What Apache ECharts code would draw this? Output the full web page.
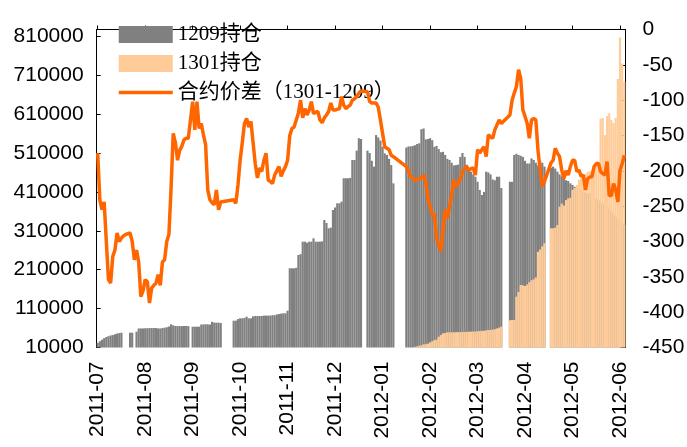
<!DOCTYPE html>
<html><head><meta charset="utf-8">
<script src="https://cdn.jsdelivr.net/npm/echarts@6/dist/echarts.min.js"></script>
<style>html,body{margin:0;padding:0;background:#fff}#c{width:687px;height:447px}</style>
</head><body><div id="c"></div>
<script>
// weekday slots starting 2011-07-13, 245 trading-day slots (holidays kept as empty slots)
const startDate = [2011, 6, 13];
const slotCount = 245;
const monthLabels = ['2011-07','2011-08','2011-09','2011-10','2011-11','2011-12','2012-01','2012-02','2012-03','2012-04','2012-05','2012-06'];
const labelEvery = 22;

const holding1209 = [
  22000, 26000, 30000,
  34000, 37000, 39000, 41000, 42000,
  44000, 46000, 47000, 48000, null,
  null, null, 48000, 48000, null,
  50600, 59000, 59000, 59000, 59500,
  59500, 60000, 60000, 60000, 60000,
  59000, 59000, 60000, 61000, 62000,
  64000, 69600, 67000, 65300, 65300,
  65000, 65000, 65300, 65300, 65000,
  null, 63500, 63500, 63500, 63500,
  69000, 69600, 69600, 69600, 69000,
  76000, 74000, 73800, 73800, 73000,
  null, null, null, null, null,
  78900, 79000, 83000, 85000, 85000,
  86000, 89200, 85000, 85000, 90000,
  91000, 91000, 91000, 91000, 92000,
  92000, 92000, 92000, 93000, 93000,
  95000, 96000, 97000, 98000, 98000,
  104600, 213600, 213600, 213600, 215000,
  247800, 250000, 282000, 282000, 279500,
  282000, 282000, 290700, 282000, 282000,
  282000, 283000, 337800, 330000, 316500,
  318000, 363500, 370000, 380700, 380700,
  385000, 445000, 445000, 445000, 446000,
  492000, 492000, 516000, 548000, 546000,
  null, null, 516000, 510000, 490000,
  475000, 556000, 550000, 542000, 526000,
  509000, 505000, 495000, 479000, 432000,
  null, null, null, null, null,
  524000, 527000, 527000, 528000, 530000,
  533000, 535000, 571000, 573000, 545000,
  546000, 548000, 543000, 526000, 528000,
  520000, 512000, 513000, 505000, 495000,
  492000, 485000, 478000, 479000, 480000,
  500000, 510000, 500000, 480000, 466000,
  462000, 455000, 449000, 436000, 415000,
  402000, 410000, 462000, 460000, 455000,
  442000, 440000, 449000, 449000, 420000,
  null, null, null, 436000, 436000,
  505000, 508000, 505000, 503000, 500000,
  490000, 483000, 483000, 496000, 492000,
  485000, 478000, 490000, 485000, 475000,
  null, null, 472000, 475000, 470000,
  462000, 455000, 450000, 445000, 440000,
  438000, 432000, 428000, 423000, 420000,
  418000, 415000, 410000, 408000, 406000,
  405000, 400000, 395000, 392000, 390000,
  382000, 378000, 376000, 372000, 368000,
  360000, 350000, 346000, 340000, 335000,
  330000, 325000
];

// 1301 has no data before slot 147
const holding1301EmptyLead = 147;
const holding1301Values = [
  12000,
  13000, 14600, 15500, 18000, 18500,
  20000, 23000, 26000, 29000, 30000,
  37700, 42000, 46500, 47000, 49000,
  49000, 49000, 49000, 49500, 49500,
  49500, 50000, 50000, 50000, 50600,
  50600, 51000, 51000, 52000, 52000,
  53000, 53000, 54000, 55000, 55000,
  56000, 57000, 59000, 61000, 63500,
  null, null, null, 80000, 80700,
  80700, 140600, 153000, 170700, 170000,
  168000, 172000, 178000, 183000, 185000,
  190000, 256000, 262000, 270000, 278000,
  null, null, 316500, 316500, 318000,
  325000, 372000, 380000, 375000, 389000,
  393000, 395000, 415000, 420000, 428000,
  441000, 445000, 449000, 455000, 462000,
  462000, 465000, 470000, 475000, 480000,
  598000, 600000, 556000, 605000, 612000,
  595000, 587000, 600000, 700000, 807000,
  740000, 693000
];

const spread = [
  -175, -241, -255,
  -244, -300, -354, -359, -321,
  -312, -288, -300, -295, -292,
  -290, -289, -288, -300, -326,
  -312, -329, -378, -370, -354,
  -357, -387, -366, -362, -359,
  -347, -362, -329, -326, -300,
  -290, -225, -147, -160, -185,
  -171, -165, -156, -154, -154,
  null, -102, -142, -102, -140,
  -133, -149, -163, -227, -241,
  -245, -248, -227, -255, -244,
  null, null, null, null, null,
  -241, -246, -220, -185, -160,
  -133, -126, -138, -130, -160,
  -190, -210, -196, -201, -185,
  -175, -213, -215, -218, -206,
  -200, -194, -208, -200, -194,
  -185, -150, -140, -138, -128,
  -118, -100, -125, -112, -121,
  -114, -102, -119, -117, -116,
  -128, -132, -125, -121, -116,
  -104, -114, -114, -113, -112,
  -95, -107, -112, -109, -107,
  -100, -98, -95, -90, -87,
  null, null, -88, -102, -104,
  -104, -104, -110, -128, -147,
  -166, -168, -170, -178, -180,
  null, null, null, null, null,
  -194, -200, -208, -211, -213,
  -212, -211, -210, -206, -215,
  -240, -250, -262, -262, -295,
  -305, -314, -284, -255, -267,
  -250, -235, -213, -222, -218,
  -212, -201, -197, -194, -199,
  -197, -196, -206, -170, -175,
  -170, -166, -180, -149, -152,
  -154, -142, -135, -128, -133,
  null, null, null, -121, -100,
  -90, -81, -57, -69, -114,
  -123, -133, -154, -128, -126,
  -128, -171, -199, -222, -215,
  null, null, -189, -185, -168,
  -175, -180, -199, -211, -200,
  -206, -194, -185, -185, -201,
  -199, -208, -206, -227, -211,
  -209, -208, -194, -190, -189,
  -201, -204, -206, -187, -235,
  -235, -218, -227, -244, -199,
  -190, -178
];

// build weekday categories
const categories = [];
let d = new Date(Date.UTC(startDate[0], startDate[1], startDate[2]));
while (categories.length < slotCount) {
  const w = d.getUTCDay();
  if (w !== 0 && w !== 6) categories.push(d.toISOString().slice(0, 10));
  d = new Date(d.getTime() + 86400000);
}
const holding1301 = new Array(holding1301EmptyLead).fill(null).concat(holding1301Values);

const FONT = "'Liberation Sans', Arial, sans-serif";
const chart = echarts.init(document.getElementById('c'), null, {renderer: 'canvas'});
chart.setOption({
  animation: false,
  backgroundColor: '#fff',
  grid: {left: 96.6, right: 61.6, top: 29.5, bottom: 99.5, containLabel: false, outerBoundsMode: 'none'},
  legend: {
    orient: 'vertical', left: 112, top: 19, itemWidth: 54, itemHeight: 17, itemGap: 8,
    textStyle: {fontFamily: "'Liberation Serif', 'Noto Sans CJK SC', serif", fontSize: 21, color: '#000', lineHeight: 21},
    data: [
      {name: '1209持仓', icon: 'rect'},
      {name: '1301持仓', icon: 'rect'},
      {name: '合约价差（1301-1209）', itemStyle: {opacity: 0}, lineStyle: {width: 3.5}}
    ]
  },
  xAxis: {
    type: 'category', data: categories, boundaryGap: true,
    axisLine: {show: true, lineStyle: {color: '#000', width: 1}},
    axisTick: {show: true, inside: true, length: 4, interval: labelEvery - 1, alignWithLabel: true, lineStyle: {color: '#000'}},
    axisLabel: {
      show: true, interval: labelEvery - 1, rotate: 90, margin: 14,
      fontFamily: FONT, fontSize: 21, color: '#000',
      formatter: (v, i) => monthLabels[Math.round(i / labelEvery)] || ''
    },
    splitLine: {show: false}
  },
  yAxis: [
    {
      type: 'value', min: 10000, max: 827500, interval: 100000, position: 'left',
      axisLine: {show: true, lineStyle: {color: '#000', width: 1}},
      axisTick: {show: true, inside: true, length: 4, lineStyle: {color: '#000'}},
      axisLabel: {fontFamily: FONT, fontSize: 21, color: '#000', margin: 13, showMaxLabel: false,
        formatter: v => ((v - 10000) % 100000 === 0 ? String(v) : '')},
      splitLine: {show: false}
    },
    {
      type: 'value', min: -450, max: 0, interval: 50, position: 'right',
      axisLine: {show: true, lineStyle: {color: '#000', width: 1}},
      axisTick: {show: true, inside: true, length: 5, lineStyle: {color: '#000'}},
      axisLabel: {fontFamily: FONT, fontSize: 21, color: '#000', margin: 17},
      splitLine: {show: false}
    }
  ],
  series: [
    {
      name: '1209持仓', type: 'bar', data: holding1209, yAxisIndex: 0,
      barGap: '-100%', barCategoryGap: '0%',
      itemStyle: {color: '#808080'}
    },
    {
      name: '1301持仓', type: 'bar', data: holding1301, yAxisIndex: 0,
      barGap: '-100%', barCategoryGap: '0%',
      itemStyle: {color: '#FFCC99'}
    },
    {
      name: '合约价差（1301-1209）', type: 'line', data: spread, yAxisIndex: 1,
      symbol: 'none', connectNulls: true, z: 5,
      lineStyle: {color: '#FF6600', width: 3.5},
      itemStyle: {color: '#FF6600'}
    }
  ]
});
</script>
</body></html>
